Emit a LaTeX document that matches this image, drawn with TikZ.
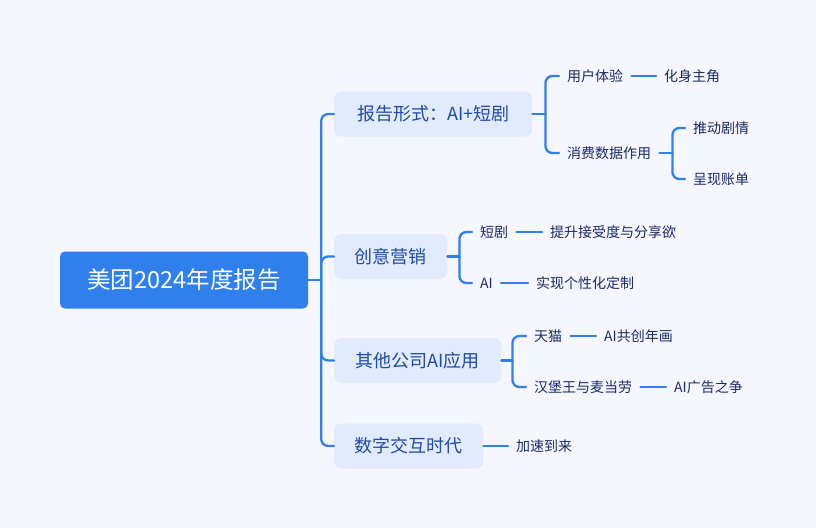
\documentclass[tikz,border=0pt]{standalone}
\usepackage{fontspec}
\usetikzlibrary{calc}
\setmainfont{Noto Sans CJK SC}
\begin{document}
\begin{tikzpicture}[x=1pt,y=-1pt,
  rootbox/.style={fill=rootblue,text=white,rounded corners=5pt,minimum width=248pt,minimum height=57pt,inner sep=0pt,font=\fontsize{23.5}{27}\selectfont},
  l1box/.style={fill=boxfill,text=lonetext,rounded corners=7pt,minimum height=45pt,inner xsep=20pt,inner ysep=0pt,anchor=west,font=\fontsize{18}{22}\selectfont},
  leaf/.style={text=ltwotext,inner xsep=8pt,inner ysep=2pt,anchor=west,font=\fontsize{14}{17}\selectfont},
  link/.style={draw=linkblue,line width=2.3pt,rounded corners=7pt,line cap=round}
]
\definecolor{bg}{HTML}{F5F6FE}
\definecolor{rootblue}{HTML}{2F80EC}
\definecolor{boxfill}{HTML}{E2EAFD}
\definecolor{lonetext}{HTML}{1F4AA8}
\definecolor{ltwotext}{HTML}{1A2A66}
\definecolor{linkblue}{HTML}{2F80EC}
\fill[bg] (0,0) rectangle (816,528);
\useasboundingbox (0,0) rectangle (816,528);

% root
\node[rootbox] (root) at (184,280) {美团2024年度报告};

% level 1
\node[l1box,minimum width=198pt] (b1) at (334,114) {报告形式：AI+短剧};
\node[l1box,minimum width=113pt] (b2) at (334,256.5) {创意营销};
\node[l1box,minimum width=167pt] (b3) at (334,360.5) {其他公司AI应用};
\node[l1box,minimum width=149pt] (b4) at (334,446) {数字交互时代};

% level 2
\node[leaf] (c11) at (559,76) {用户体验};
\node[leaf] (c12) at (559,153) {消费数据作用};
\node[leaf] (d11) at (656,76) {化身主角};
\node[leaf] (d121) at (685,128) {推动剧情};
\node[leaf] (d122) at (685,179) {呈现账单};

\node[leaf] (c21) at (472,232) {短剧};
\node[leaf] (c22) at (472,283) {AI};
\node[leaf] (d21) at (542,232) {提升接受度与分享欲};
\node[leaf] (d22) at (528,283) {实现个性化定制};

\node[leaf] (c31) at (526,336) {天猫};
\node[leaf] (c32) at (526,387) {汉堡王与麦当劳};
\node[leaf] (d31) at (596,336) {AI共创年画};
\node[leaf] (d32) at (666,387) {AI广告之争};

\node[leaf] (c41) at (508,446) {加速到来};

% junction coordinates
\coordinate (t0) at ($(root.east)+(13,0)$);
\coordinate (j1) at ($(b1.east)+(13,0)$);
\coordinate (j2) at ($(b2.east)+(12,0)$);
\coordinate (j3) at ($(b3.east)+(11,0)$);
\coordinate (j12) at ($(c12.east)+(13,0)$);

% trunk
\draw[link] (root.east) -- (t0);
\foreach \b in {b1,b2,b3,b4} \draw[link] (t0) |- (\b.west);

\draw[link] (b1.east) -- (j1);
\foreach \c in {c11,c12} \draw[link] (j1) |- (\c.west);
\draw[link] (c11.east) -- (d11.west);
\draw[link] (c12.east) -- (j12);
\foreach \c in {d121,d122} \draw[link] (j12) |- (\c.west);

\draw[link] (b2.east) -- (j2);
\foreach \c in {c21,c22} \draw[link] (j2) |- (\c.west);
\draw[link] (c21.east) -- (d21.west);
\draw[link] (c22.east) -- (d22.west);

\draw[link] (b3.east) -- (j3);
\foreach \c in {c31,c32} \draw[link] (j3) |- (\c.west);
\draw[link] (c31.east) -- (d31.west);
\draw[link] (c32.east) -- (d32.west);

\draw[link] (b4.east) -- (c41.west);
\end{tikzpicture}
\end{document}
